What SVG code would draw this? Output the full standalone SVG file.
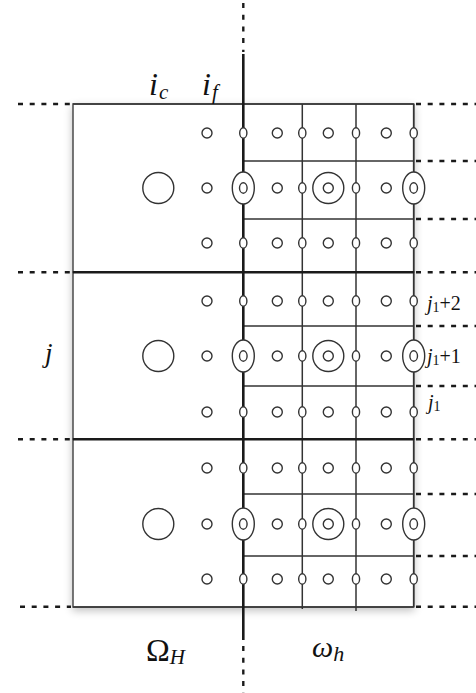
<svg xmlns="http://www.w3.org/2000/svg" xmlns:xlink="http://www.w3.org/1999/xlink" width="476" height="693" viewBox="0 0 476 693">
<style>
.bg{fill:#fff}
.box{fill:#fff;stroke:#555;stroke-width:1.6}
.thick{stroke:#1a1a1a;stroke-width:2.6;fill:none}
.thin{stroke:#333;stroke-width:1.5;fill:none}
.dot{stroke:#1a1a1a;stroke-width:2.4;stroke-dasharray:5 6.7;fill:none}
.c{fill:#fff;stroke:#333;stroke-width:1.4}
.t{font-family:"Liberation Serif","DejaVu Serif",serif;font-style:italic;fill:#111}
.u{font-family:"Liberation Serif","DejaVu Serif",serif;font-style:normal;fill:#111}
</style>
<defs>
<filter id="sh" x="-10%" y="-10%" width="120%" height="120%">
<feGaussianBlur in="SourceAlpha" stdDeviation="4"/>
<feOffset dx="0" dy="3" result="b"/>
<feComponentTransfer><feFuncA type="linear" slope="0.25"/></feComponentTransfer>
<feMerge><feMergeNode/><feMergeNode in="SourceGraphic"/></feMerge>
</filter>
<circle id="sc" r="5" class="c"/>
<ellipse id="se" rx="3.6" ry="5.2" class="c"/>
<g id="be"><ellipse rx="11" ry="16" class="c"/><ellipse rx="3.8" ry="5.2" class="c"/></g>
<g id="dc"><circle r="15.5" class="c"/><circle r="5" class="c"/></g>
<circle id="lc" r="15.5" class="c"/>
</defs>
<rect width="476" height="693" class="bg"/>
<g id="blocks" filter="url(#sh)">
<rect x="73" y="104" width="340.7" height="168" class="box"/>
<rect x="73" y="272" width="340.7" height="167" class="box"/>
<rect x="73" y="439" width="340.7" height="168" class="box"/>
</g>
<g id="connectors">
<line x1="302.3" y1="104" x2="302.3" y2="609" class="thin"/>
<line x1="356" y1="104" x2="356" y2="611" class="thin"/>
<line x1="413.7" y1="104" x2="413.7" y2="607" class="thin"/>
<line x1="243.3" y1="161" x2="413.7" y2="161" class="thin"/>
<line x1="243.3" y1="219" x2="413.7" y2="219" class="thin"/>
<line x1="243.3" y1="326" x2="413.7" y2="326" class="thin"/>
<line x1="243.3" y1="386" x2="413.7" y2="386" class="thin"/>
<line x1="243.3" y1="494" x2="413.7" y2="494" class="thin"/>
<line x1="243.3" y1="556" x2="413.7" y2="556" class="thin"/>
<line x1="73" y1="104" x2="413.7" y2="104" class="thin"/>
<line x1="73" y1="607" x2="413.7" y2="607" class="thin"/>
<line x1="73" y1="272.3" x2="413.7" y2="272.3" class="thick"/>
<line x1="73" y1="439.3" x2="413.7" y2="439.3" class="thick"/>
<line x1="243.3" y1="54" x2="243.3" y2="640" class="thick"/>
<path d="M243.3 3V52M243.3 646V693" class="dot"/>
<path d="M18 104H71M18 272.3H71M18 439.3H71M20 606.7H71" class="dot"/>
<path d="M416 104H476M416 161H476M416 219H476M416 272.3H476M416 326H476M416 386H476M416 439.3H476M416 494H476M416 556H476M416 606.7H476" class="dot"/>
</g>
<g id="nodes">
<g id="row1"><use href="#sc" x="207" y="133"/><use href="#se" x="243.3" y="133"/><use href="#sc" x="277.3" y="133"/><use href="#se" x="302.3" y="133"/><use href="#sc" x="328.3" y="133"/><use href="#se" x="356" y="133"/><use href="#sc" x="386.3" y="133"/><use href="#se" x="413.7" y="133"/></g>
<g id="row2"><use href="#lc" x="158.3" y="188"/><use href="#sc" x="207" y="188"/><use href="#be" x="243.3" y="188"/><use href="#sc" x="277.3" y="188"/><use href="#se" x="302.3" y="188"/><use href="#dc" x="328.3" y="188"/><use href="#se" x="356" y="188"/><use href="#sc" x="386.3" y="188"/><use href="#be" x="413.7" y="188"/></g>
<g id="row3"><use href="#sc" x="207" y="243"/><use href="#se" x="243.3" y="243"/><use href="#sc" x="277.3" y="243"/><use href="#se" x="302.3" y="243"/><use href="#sc" x="328.3" y="243"/><use href="#se" x="356" y="243"/><use href="#sc" x="386.3" y="243"/><use href="#se" x="413.7" y="243"/></g>
<g id="row4"><use href="#sc" x="207" y="301"/><use href="#se" x="243.3" y="301"/><use href="#sc" x="277.3" y="301"/><use href="#se" x="302.3" y="301"/><use href="#sc" x="328.3" y="301"/><use href="#se" x="356" y="301"/><use href="#sc" x="386.3" y="301"/><use href="#se" x="413.7" y="301"/></g>
<g id="row5"><use href="#lc" x="158.3" y="356"/><use href="#sc" x="207" y="356"/><use href="#be" x="243.3" y="356"/><use href="#sc" x="277.3" y="356"/><use href="#se" x="302.3" y="356"/><use href="#dc" x="328.3" y="356"/><use href="#se" x="356" y="356"/><use href="#sc" x="386.3" y="356"/><use href="#be" x="413.7" y="356"/></g>
<g id="row6"><use href="#sc" x="207" y="412"/><use href="#se" x="243.3" y="412"/><use href="#sc" x="277.3" y="412"/><use href="#se" x="302.3" y="412"/><use href="#sc" x="328.3" y="412"/><use href="#se" x="356" y="412"/><use href="#sc" x="386.3" y="412"/><use href="#se" x="413.7" y="412"/></g>
<g id="row7"><use href="#sc" x="207" y="468"/><use href="#se" x="243.3" y="468"/><use href="#sc" x="277.3" y="468"/><use href="#se" x="302.3" y="468"/><use href="#sc" x="328.3" y="468"/><use href="#se" x="356" y="468"/><use href="#sc" x="386.3" y="468"/><use href="#se" x="413.7" y="468"/></g>
<g id="row8"><use href="#lc" x="158.3" y="524"/><use href="#sc" x="207" y="524"/><use href="#be" x="243.3" y="524"/><use href="#sc" x="277.3" y="524"/><use href="#se" x="302.3" y="524"/><use href="#dc" x="328.3" y="524"/><use href="#se" x="356" y="524"/><use href="#sc" x="386.3" y="524"/><use href="#be" x="413.7" y="524"/></g>
<g id="row9"><use href="#sc" x="207" y="579"/><use href="#se" x="243.3" y="579"/><use href="#sc" x="277.3" y="579"/><use href="#se" x="302.3" y="579"/><use href="#sc" x="328.3" y="579"/><use href="#se" x="356" y="579"/><use href="#sc" x="386.3" y="579"/><use href="#se" x="413.7" y="579"/></g>
</g>
<g id="labels">
<text class="t" x="149" y="95" font-size="32">i<tspan font-size="21" dx="1" dy="4">c</tspan></text>
<text class="t" x="202" y="95" font-size="32">i<tspan font-size="21" dx="1" dy="4">f</tspan></text>
<text class="t" x="45" y="362" font-size="27">j</text>
<text class="t" x="427" y="310" font-size="20">j<tspan class="u" font-size="14" dy="2">1</tspan><tspan class="u" font-size="20" dy="-2">+2</tspan></text>
<text class="t" x="427" y="363" font-size="20">j<tspan class="u" font-size="14" dy="2">1</tspan><tspan class="u" font-size="20" dy="-2">+1</tspan></text>
<text class="t" x="428" y="409" font-size="20">j<tspan class="u" font-size="14" dy="2">1</tspan></text>
<text class="u" x="146" y="661" font-size="32">Ω<tspan class="t" font-size="21" dy="3">H</tspan></text>
<text class="t" x="312" y="657" font-size="30">ω<tspan font-size="22" dy="4">h</tspan></text>
</g>
</svg>
